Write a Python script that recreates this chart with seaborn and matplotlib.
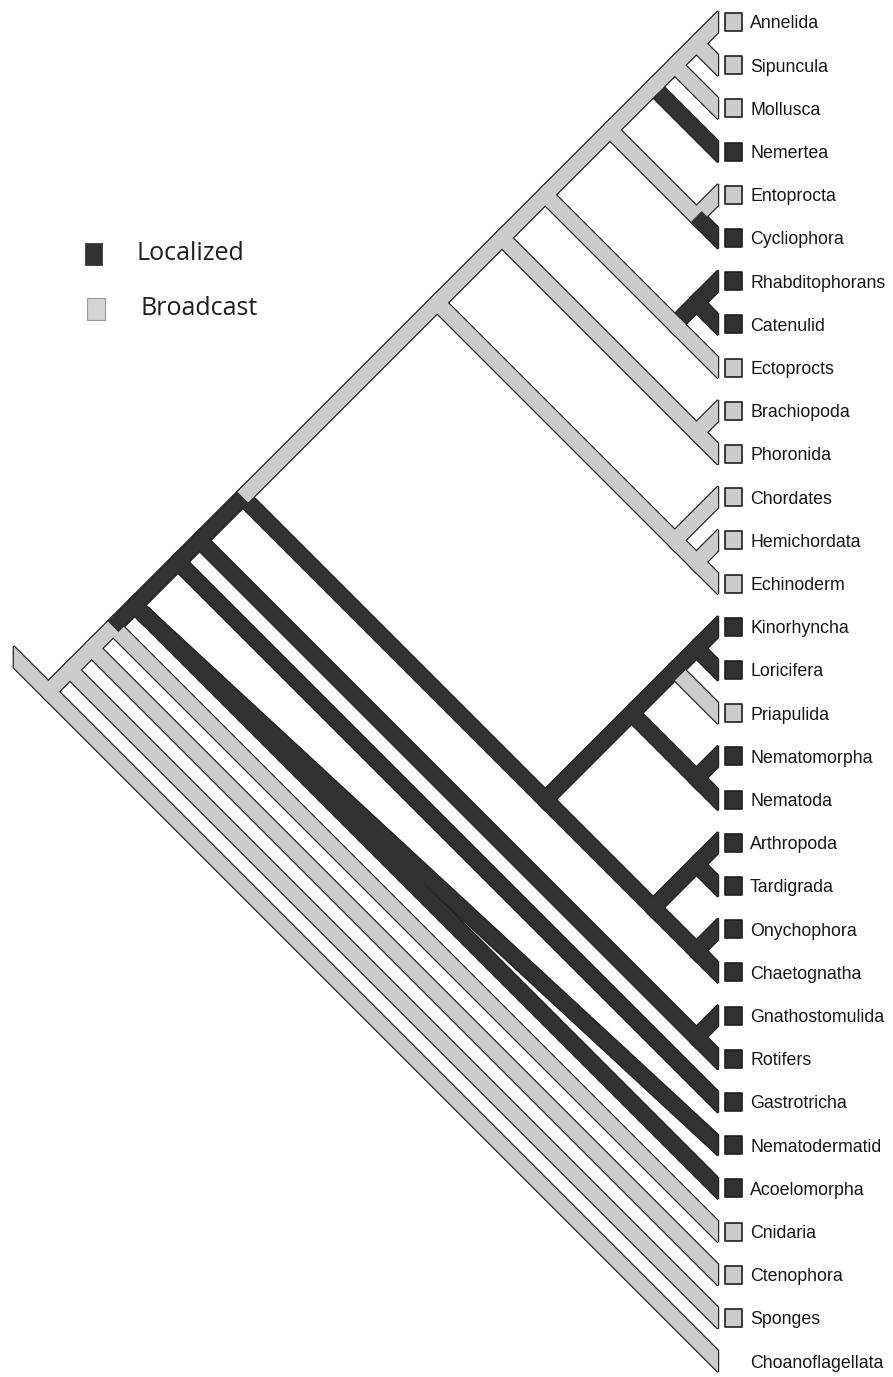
import numpy as np
import pandas as pd
import matplotlib
matplotlib.use("Agg")
import matplotlib.pyplot as plt
from matplotlib.patches import Polygon, Rectangle
import seaborn as sns

L, B = "Localized", "Broadcast"

# Terminal taxa, top to bottom
taxa = ["Annelida", "Sipuncula", "Mollusca", "Nemertea", "Entoprocta", "Cycliophora",
        "Rhabditophorans", "Catenulid", "Ectoprocts", "Brachiopoda", "Phoronida",
        "Chordates", "Hemichordata", "Echinoderm", "Kinorhyncha", "Loricifera",
        "Priapulida", "Nematomorpha", "Nematoda", "Arthropoda", "Tardigrada",
        "Onychophora", "Chaetognatha", "Gnathostomulida", "Rotifers", "Gastrotricha",
        "Nematodermatid", "Acoelomorpha", "Cnidaria", "Ctenophora", "Sponges",
        "Choanoflagellata"]

# Spawning mode of each terminal branch
tip_mode = [B, B, B, L, B, L,
            L, L, B, B, B,
            B, B, B, L, L,
            B, L, L, L, L,
            L, L, L, L, L,
            L, L, B, B, B,
            B]

# Taxa that carry a character-state box
has_box = [True] * 31 + [False]

# Clades: (mode on the stem branch, upper child, lower child)
lophotrochozoa = (B,
                  (B,
                   (B, (B, (B, (B, "Annelida", "Sipuncula"), "Mollusca"), "Nemertea"),
                    (B, "Entoprocta", "Cycliophora")),
                   (B, (L, "Rhabditophorans", "Catenulid"), "Ectoprocts")),
                  (B, "Brachiopoda", "Phoronida"))
deuterostomia = (B, "Chordates", (B, "Hemichordata", "Echinoderm"))
ecdysozoa = (L,
             (L, (L, (L, "Kinorhyncha", "Loricifera"), "Priapulida"),
              (L, "Nematomorpha", "Nematoda")),
             (L, (L, "Arthropoda", "Tardigrada"), (L, "Onychophora", "Chaetognatha")))
bilateria = (L,
             (L, (L, (L, (B, lophotrochozoa, deuterostomia), ecdysozoa),
                  (L, "Gnathostomulida", "Rotifers")),
              "Gastrotricha"),
             (L, "Nematodermatid", "Acoelomorpha"))
tree = (B, (B, (B, (B, bilateria, "Cnidaria"), "Ctenophora"), "Sponges"), "Choanoflagellata")

# Clade whose node sits further out along its stem
stem_shift = {("Nematodermatid", "Acoelomorpha"): 0.2}

sns.set_theme(style="white")
plt.rcParams["font.family"] = ["Liberation Sans", "DejaVu Sans"]

DARK = "#313131"
LIGHT = "#cccccc"
EDGE = "#202020"
palette = {L: DARK, B: LIGHT}

W, H = 893, 1377
PX = 43.2            # pixels per row
TIP_X, TOP_Y = 718, 22
HW = 7.5 / PX        # half band width
OL = 1.2             # outline width in pixels
ROOT_STEM = 0.8
BOX_X = 15.5 / PX
LABEL_X = 32 / PX

fig = plt.figure(figsize=(W / 100, H / 100), dpi=100)
ax = fig.add_axes([0, 0, 1, 1])

index = {t: i for i, t in enumerate(taxa)}


def build(node):
    if isinstance(node, str):
        i = index[node]
        return {"mode": tip_mode[i], "lo": i, "hi": i, "kids": [], "tip": True}
    mode, a, b = node
    kids = [build(a), build(b)]
    return {"mode": mode, "lo": kids[0]["lo"], "hi": kids[1]["hi"], "kids": kids, "tip": False}


def place(n, parent=None):
    key = tuple(taxa[n["lo"]:n["hi"] + 1])
    if parent is not None and key in stem_shift:
        s = stem_shift[key]
        n["x"], n["y"] = parent["x"] + s, parent["y"] + s
    else:
        n["x"] = -(n["hi"] - n["lo"]) / 2
        n["y"] = (n["hi"] + n["lo"]) / 2
    for k in n["kids"]:
        place(k, n)


def unit(dx, dy):
    r = np.hypot(dx, dy)
    return np.array([dx / r, dy / r])


root = build(tree)
place(root)

edges = []


def collect(n, x0, y0, level, cut_start=None):
    edges.append(dict(x0=x0, y0=y0, x1=n["x"], y1=n["y"], mode=n["mode"], level=level,
                      tip=n["tip"], cut_start=cut_start, order=len(edges)))
    if n["tip"]:
        return
    din = unit(n["x"] - x0, n["y"] - y0)
    dots = [np.dot(din, unit(k["x"] - n["x"], k["y"] - n["y"])) for k in n["kids"]]
    main = int(np.argmax(dots))
    for j, k in enumerate(n["kids"]):
        collect(k, n["x"], n["y"], level if j == main else level + 1)


start = root["x"] - ROOT_STEM
collect(root, start, root["y"] - ROOT_STEM, 0, cut_start=start)


def band(e, hw):
    d = unit(e["x1"] - e["x0"], e["y1"] - e["y0"])
    nv = np.array([-d[1], d[0]])
    p0 = np.array([e["x0"], e["y0"]])
    p1 = np.array([e["x1"], e["y1"]])
    if not e["tip"]:
        p1 = p1 + d * hw
    a, b = p0 + nv * hw, p0 - nv * hw
    c, f = p1 - nv * hw, p1 + nv * hw
    if e["cut_start"] is not None:
        cs = e["cut_start"]
        a = a + d * ((cs - a[0]) / d[0])
        b = b + d * ((cs - b[0]) / d[0])
    if e["tip"]:
        c = c + d * ((0 - c[0]) / d[0])
        f = f + d * ((0 - f[0]) / d[0])
    return np.array([a, b, c, f])


ordered = sorted(edges, key=lambda e: (-e["level"], e["order"]))
# outlines underneath
for e in ordered:
    ax.add_patch(Polygon(band(e, HW), closed=True, facecolor=EDGE, edgecolor=EDGE,
                         lw=2 * OL * 0.72, joinstyle="miter", zorder=1))
# fills on top
for e in ordered:
    ax.add_patch(Polygon(band(e, HW), closed=True, facecolor=palette[e["mode"]],
                         edgecolor="none", zorder=2))

# character-state boxes at the tips
boxes = pd.DataFrame({"taxon": taxa, "mode": tip_mode, "row": np.arange(len(taxa))})
boxes = boxes[has_box].assign(x=BOX_X)
sns.scatterplot(data=boxes, x="x", y="row", hue="mode", palette=palette, marker="s",
                s=165, edgecolor=EDGE, linewidth=1.2, legend=False, ax=ax, zorder=3)

for i, t in enumerate(taxa):
    ax.text(LABEL_X, i + 6.4 / PX, t, fontsize=12.8, color="#161616",
            ha="left", va="baseline", zorder=4)


def to_data(x, y):
    return ((x - TIP_X) / PX, (y - TOP_Y) / PX)


# legend
ax.add_patch(Rectangle(to_data(85, 243), 17 / PX, 22 / PX, facecolor=DARK,
                       edgecolor="#3a3a3a", lw=0.6, zorder=3))
ax.add_patch(Rectangle(to_data(87, 298), 18 / PX, 22 / PX, facecolor="#d4d4d4",
                       edgecolor="#9a9a9a", lw=0.8, zorder=3))
ax.text(*to_data(136, 260), L, fontsize=18, family=["Open Sans", "DejaVu Sans"],
        color="#1e1e1e", ha="left", va="baseline")
ax.text(*to_data(140, 315), B, fontsize=18, family=["Open Sans", "DejaVu Sans"],
        color="#1e1e1e", ha="left", va="baseline")

ax.set_xlim(-TIP_X / PX, (W - TIP_X) / PX)
ax.set_ylim((H - TOP_Y) / PX, -TOP_Y / PX)
ax.axis("off")

fig.savefig("out.png", dpi=100, facecolor="white")
